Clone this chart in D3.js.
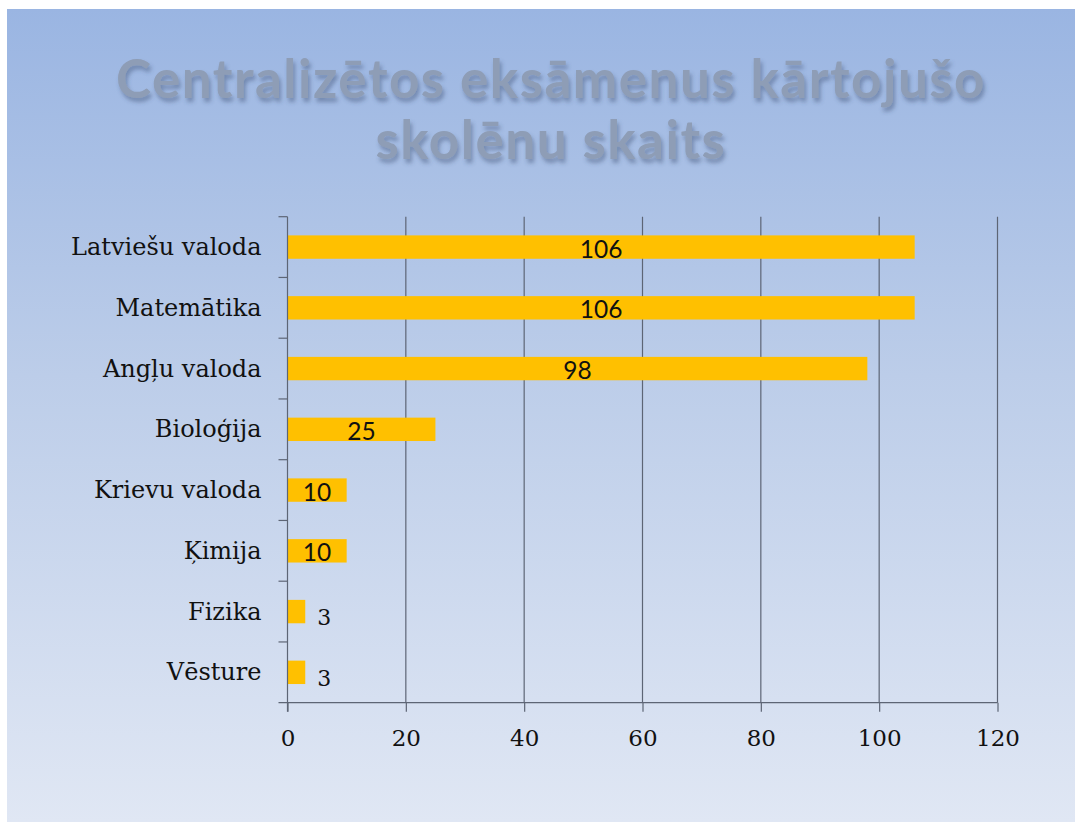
<!DOCTYPE html>
<html>
<head>
<meta charset="utf-8">
<script src="https://cdn.jsdelivr.net/npm/d3@7"></script>
<style>
  html, body { margin: 0; padding: 0; background: #ffffff; }
  svg { display: block; }
</style>
</head>
<body>
<svg id="chart" width="1075" height="823"></svg>
<script>
// ---- data ----
const titleLines = ["Centralizētos eksāmenus kārtojušo", "skolēnu skaits"];
const categories = ["Latviešu valoda", "Matemātika", "Angļu valoda", "Bioloģija", "Krievu valoda", "Ķimija", "Fizika", "Vēsture"];
const values = [106, 106, 98, 25, 10, 10, 3, 3];
const xTicks = [0, 20, 40, 60, 80, 100, 120];

// ---- layout ----
const svg = d3.select("#chart");
const W = 1075, H = 823;
const plot = { left: 287.5, right: 997.5, top: 216.7, bottom: 702.7 };

const defs = svg.append("defs");
const bg = defs.append("linearGradient").attr("id", "bgGrad")
  .attr("x1", 0).attr("y1", 0).attr("x2", 0).attr("y2", 1);
bg.append("stop").attr("offset", "0%").attr("stop-color", "#9ab5e2");
bg.append("stop").attr("offset", "45%").attr("stop-color", "#bccde9");
bg.append("stop").attr("offset", "100%").attr("stop-color", "#e0e7f4");

const f = defs.append("filter").attr("id", "titleFx")
  .attr("x", "-5%").attr("y", "-30%").attr("width", "110%").attr("height", "160%");
f.append("feGaussianBlur").attr("in", "SourceAlpha").attr("stdDeviation", 2).attr("result", "b");
f.append("feOffset").attr("in", "b").attr("dx", 2).attr("dy", 4).attr("result", "o");
f.append("feFlood").attr("flood-color", "#3a4c70").attr("flood-opacity", 0.45).attr("result", "c");
f.append("feComposite").attr("in", "c").attr("in2", "o").attr("operator", "in").attr("result", "sh");
f.append("feGaussianBlur").attr("in", "SourceGraphic").attr("stdDeviation", 0.7).attr("result", "sg");
const m = f.append("feMerge");
m.append("feMergeNode").attr("in", "sh");
m.append("feMergeNode").attr("in", "sg");

// panel background
svg.append("rect").attr("x", 7).attr("y", 9).attr("width", W - 7).attr("height", H - 10)
  .attr("fill", "url(#bgGrad)");

// title
const title = svg.append("g").attr("filter", "url(#titleFx)");
title.selectAll("text").data(titleLines).join("text")
  .attr("x", 551)
  .attr("y", (d, i) => 98 + i * 61)
  .attr("text-anchor", "middle")
  .attr("font-family", "Lato, 'Open Sans', sans-serif")
  .attr("font-weight", "bold")
  .attr("font-size", 53)
  .attr("letter-spacing", 1.5)
  .attr("fill", "#8e9db6")
  .text(d => d);

// scales
const x = d3.scaleLinear().domain([0, 120]).range([plot.left, plot.right]);
const y = d3.scaleBand().domain(categories).range([plot.top, plot.bottom]).padding(0);
const barH = y.bandwidth() * 0.385;
const lineColor = "#5d6575";

// gridlines
svg.append("g").selectAll("line").data(xTicks.filter(t => t > 0)).join("line")
  .attr("x1", d => x(d)).attr("x2", d => x(d))
  .attr("y1", plot.top).attr("y2", plot.bottom)
  .attr("stroke", lineColor).attr("stroke-width", 1.2);

// bars
svg.append("g").selectAll("rect").data(categories).join("rect")
  .attr("x", x(0))
  .attr("y", d => y(d) + (y.bandwidth() - barH) / 2)
  .attr("width", (d, i) => x(values[i]) - x(0))
  .attr("height", barH)
  .attr("fill", "#ffc000");

// x axis
const xAxis = svg.append("g").attr("transform", `translate(0,${plot.bottom})`)
  .call(d3.axisBottom(x).tickValues(xTicks).tickSize(9).tickPadding(18).tickSizeOuter(0));
xAxis.select(".domain").remove();
xAxis.append("line").attr("x1", plot.left - 9).attr("x2", plot.right).attr("y1", 0).attr("y2", 0)
  .attr("stroke", lineColor).attr("stroke-width", 1.2);
xAxis.selectAll(".tick line").attr("stroke", lineColor).attr("stroke-width", 1.2);
xAxis.selectAll(".tick text")
  .attr("font-family", "'DejaVu Serif', serif").attr("font-size", 23).attr("fill", "#111111");

// y axis
const yAxis = svg.append("g").attr("transform", `translate(${plot.left},0)`)
  .call(d3.axisLeft(y).tickSize(0).tickPadding(26));
yAxis.select(".domain").remove();
yAxis.selectAll(".tick text")
  .attr("font-family", "'DejaVu Serif', serif").attr("font-size", 24).attr("fill", "#111111")
  .attr("dy", "0.34em");
yAxis.append("line").attr("x1", 0).attr("x2", 0).attr("y1", plot.top).attr("y2", plot.bottom + 9)
  .attr("stroke", lineColor).attr("stroke-width", 1.2);
const boundaries = categories.map(c => y(c));
yAxis.append("g").selectAll("line").data(boundaries).join("line")
  .attr("x1", -9).attr("x2", 0).attr("y1", d => d).attr("y2", d => d)
  .attr("stroke", lineColor).attr("stroke-width", 1.2);

// data labels
svg.append("g").selectAll("text").data(categories).join("text")
  .attr("x", (d, i) => values[i] >= 10 ? (x(values[i]) + x(0)) / 2 : x(values[i]) + 12)
  .attr("y", d => y(d) + y.bandwidth() / 2)
  .attr("dy", (d, i) => values[i] >= 10 ? 10.5 : 13.5)
  .attr("text-anchor", (d, i) => values[i] >= 10 ? "middle" : "start")
  .attr("font-family", (d, i) => values[i] >= 10 ? "Lato, sans-serif" : "'DejaVu Serif', serif")
  .attr("font-size", (d, i) => values[i] >= 10 ? 24.5 : 22)
  .attr("fill", "#111111")
  .text((d, i) => values[i]);
</script>
</body>
</html>
